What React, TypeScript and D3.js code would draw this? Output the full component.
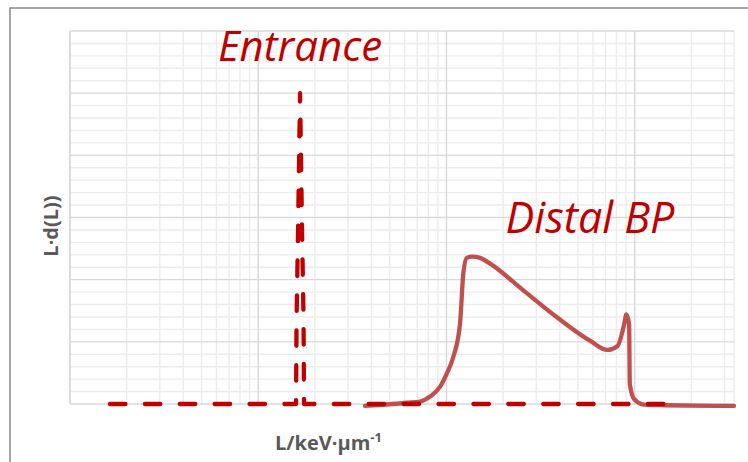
import React from "react";
import * as d3 from "d3";

// LET spectra: dose-weighted distribution L·d(L) vs. L (keV/µm), log L axis
const entranceL = [0.163, 1.588, 1.598, 1.628, 1.668, 1.709, 1.741, 1.751, 143.2];
const entranceY = [0, 0, 1.35, 2.8, 5.0, 2.8, 1.35, 0, 0];

const distalL = [3.69, 6.17, 7.24, 8.18, 9.25, 10.04, 10.88, 11.81, 12.3, 12.82, 13.68, 15.08, 17.2, 25.8, 38.8, 58.4, 71.6, 80.9, 87.9, 90.4, 93.4, 94.2, 99.3, 112.2, 143.2, 337];
const distalY = [-0.03, 0.02, 0.04, 0.12, 0.28, 0.49, 0.76, 1.3, 2.11, 2.35, 2.37, 2.35, 2.25, 1.82, 1.39, 1.01, 0.87, 0.93, 1.28, 1.44, 1.28, 0.32, 0.08, -0.01, -0.02, -0.03];

const xDomain = [0.1, 337];
const yDomain = [0, 6];
const yMajorStep = 1;
const yMinorStep = 0.2;

const W = 748;
const H = 462;
const plot = { left: 70, right: 734, top: 31, bottom: 404 };

export default function App() {
  const x = d3.scaleLog().domain(xDomain).range([plot.left, plot.right]);
  const y = d3.scaleLinear().domain(yDomain).range([plot.bottom, plot.top]);

  const xTicks = x.ticks();
  const isDecade = (v: number) => Math.abs(Math.log10(v) - Math.round(Math.log10(v))) < 1e-6;
  const xMinor = xTicks.filter((v) => !isDecade(v));
  const xMajor = xTicks.filter((v) => isDecade(v));

  const yMinor = d3.range(yDomain[0], yDomain[1] + 1e-9, yMinorStep).filter(
    (v) => Math.abs(v / yMajorStep - Math.round(v / yMajorStep)) > 1e-6
  );
  const yMajor = d3.range(yDomain[0], yDomain[1] + 1e-9, yMajorStep);

  const linePath = d3
    .line<[number, number]>()
    .x((d) => x(d[0]))
    .y((d) => y(d[1]));
  const smoothPath = d3
    .line<[number, number]>()
    .x((d) => x(d[0]))
    .y((d) => y(d[1]))
    .curve(d3.curveMonotoneX);

  const entrance = entranceL.map((l, i) => [l, entranceY[i]] as [number, number]);
  const distal = distalL.map((l, i) => [l, distalY[i]] as [number, number]);

  const minorColor = "#ececec";
  const majorColor = "#d9d9d9";

  return (
    <div style={{ position: "fixed", left: 0, top: 0 }}>
      <svg width={W} height={H} style={{ display: "block", background: "#fff" }}>
        <rect x={10} y={8} width={W + 20} height={H + 20} fill="#fff" stroke="#898989" strokeWidth={1.5} />

        {/* minor grid */}
        {yMinor.map((v) => (
          <line key={"ym" + v} x1={plot.left} x2={plot.right} y1={y(v)} y2={y(v)} stroke={minorColor} strokeWidth={1.4} />
        ))}
        {xMinor.map((v) => (
          <line key={"xm" + v} x1={x(v)} x2={x(v)} y1={plot.top} y2={plot.bottom} stroke={minorColor} strokeWidth={1.4} />
        ))}
        <line x1={plot.right} x2={plot.right} y1={plot.top} y2={plot.bottom} stroke={minorColor} strokeWidth={1.4} />

        {/* major grid */}
        {yMajor.map((v) => (
          <line key={"yM" + v} x1={plot.left} x2={plot.right} y1={y(v)} y2={y(v)} stroke={majorColor} strokeWidth={1.4} />
        ))}
        {xMajor.map((v) => (
          <line key={"xM" + v} x1={x(v)} x2={x(v)} y1={plot.top} y2={plot.bottom} stroke={majorColor} strokeWidth={1.4} />
        ))}
        <line x1={plot.left} x2={plot.left} y1={plot.top} y2={plot.bottom} stroke={majorColor} strokeWidth={1.4} />

        {/* distal Bragg peak spectrum */}
        <path d={smoothPath(distal) || ""} fill="none" stroke="#C0504D" strokeWidth={4.3} strokeLinejoin="round" strokeLinecap="round" />

        {/* entrance spectrum */}
        <path
          d={linePath(entrance) || ""}
          fill="none"
          stroke="#C00000"
          strokeWidth={4.3}
          strokeDasharray="15.5 19.4"
          strokeLinecap="round"
          strokeLinejoin="round"
        />

        <text x={300} y={60.5} textAnchor="middle" fill="#C00000" fontFamily="'Open Sans', sans-serif" fontStyle="italic" fontSize={42}>
          Entrance
        </text>
        <text x={590} y={233} textAnchor="middle" fill="#C00000" fontFamily="'Open Sans', sans-serif" fontStyle="italic" fontSize={43}>
          Distal BP
        </text>

        <text
          transform="translate(58,226) rotate(-90)"
          textAnchor="middle"
          fill="#595959"
          fontFamily="'Open Sans', sans-serif"
          fontWeight="bold"
          fontSize={20}
        >
          L·d(L))
        </text>
        <text x={275} y={450} fill="#595959" fontFamily="'Open Sans', sans-serif" fontWeight="bold" fontSize={20}>
          L/keV·µm<tspan dy={-8} fontSize={13}>-1</tspan>
        </text>
      </svg>
    </div>
  );
}
